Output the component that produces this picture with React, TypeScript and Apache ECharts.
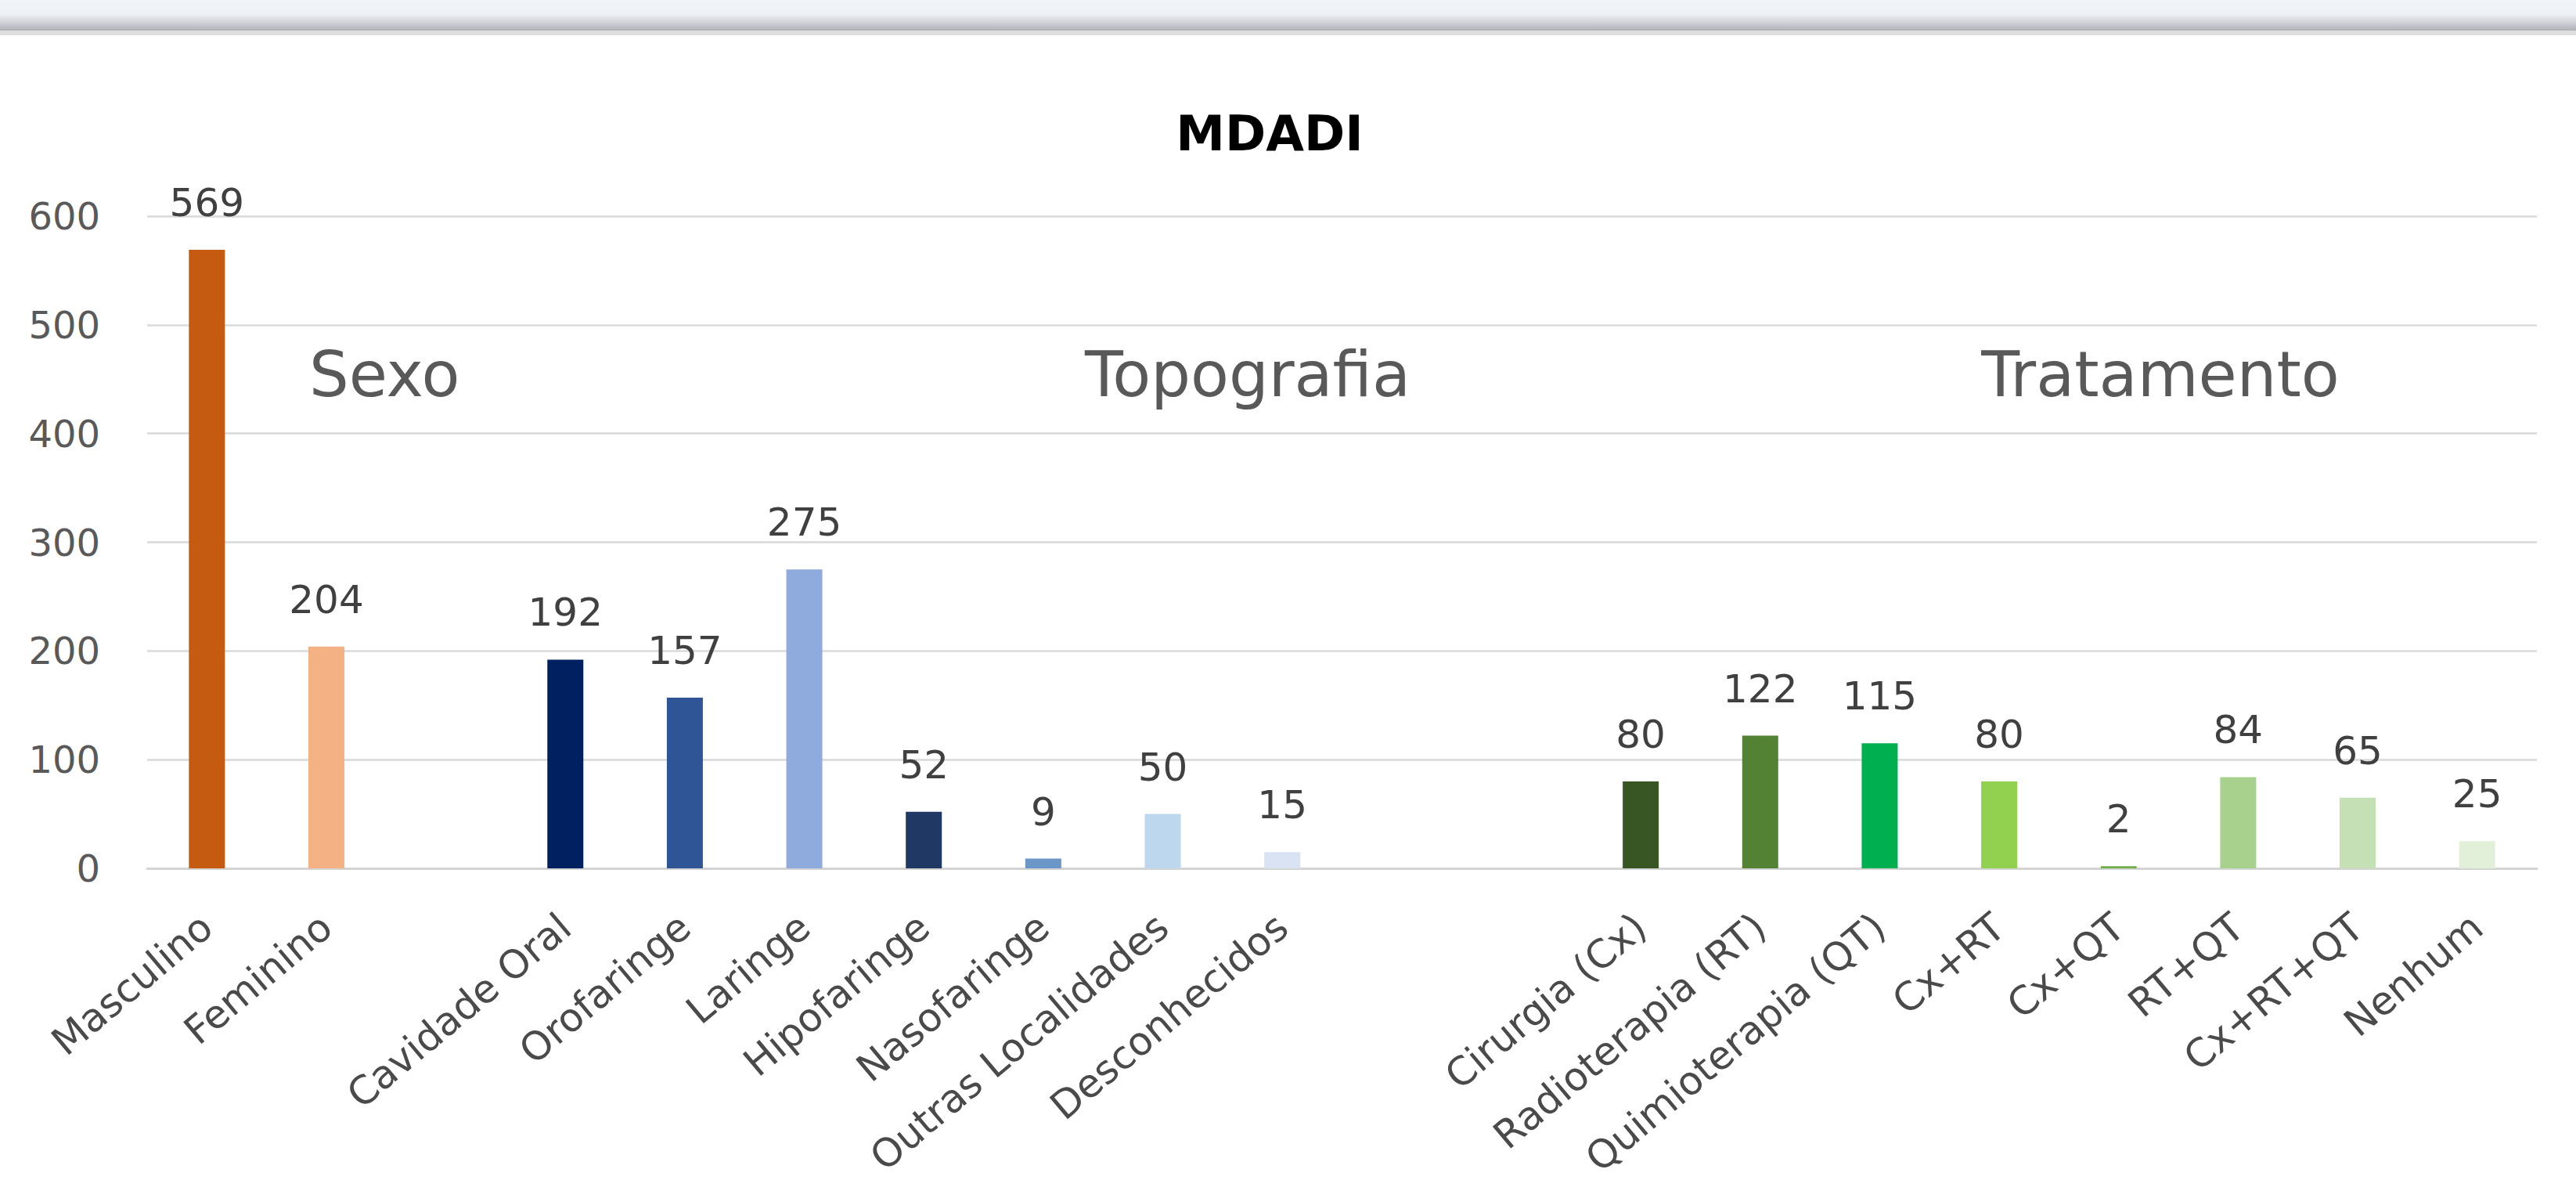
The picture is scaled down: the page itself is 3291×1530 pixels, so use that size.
import React, { useEffect, useRef } from "react";
import * as echarts from "echarts";

const categories = [
  "Masculino",
  "Feminino",
  "",
  "Cavidade Oral",
  "Orofaringe",
  "Laringe",
  "Hipofaringe",
  "Nasofaringe",
  "Outras Localidades",
  "Desconhecidos",
  " ",
  "  ",
  "Cirurgia (Cx)",
  "Radioterapia (RT)",
  "Quimioterapia (QT)",
  "Cx+RT",
  "Cx+QT",
  "RT+QT",
  "Cx+RT+QT",
  "Nenhum",
];

const values: (number | null)[] = [
  569, 204, null, 192, 157, 275, 52, 9, 50, 15, null, null, 80, 122, 115, 80, 2, 84, 65, 25,
];

const barColors = [
  "#c55a11", "#f4b183", "#ffffff", "#002060", "#2f5597", "#8faadc", "#203864", "#6a96c8",
  "#bdd7ee", "#dae3f3", "#ffffff", "#ffffff", "#375623", "#548235", "#00b050", "#92d050",
  "#70ad47", "#a9d18e", "#c5e0b4", "#e2f0d9",
];

const yTicks = { min: 0, max: 600, interval: 100 };

const title = "MDADI";
const groupNames = ["Sexo", "Topografia", "Tratamento"];
const groupX = [395, 1594, 2760];
const groupAlign = ["left", "center", "center"];

const FONT = "DejaVu Sans";

export default function App() {
  const ref = useRef<HTMLDivElement>(null);

  useEffect(() => {
    if (!ref.current) return;
    const chart = echarts.init(ref.current, null, { renderer: "svg" });

    const data = values.map((v, i) =>
      v === null
        ? { value: "-" }
        : { value: v, itemStyle: { color: barColors[i] } }
    );

    const option: any = {
      animation: false,
      backgroundColor: "#ffffff",
      title: {
        text: title,
        left: 1617,
        top: 134,
        textAlign: "center",
        textStyle: {
          fontFamily: FONT,
          fontWeight: "bold",
          fontSize: 63,
          color: "#000000",
        },
      },
      grid: {
        left: 188,
        right: 50,
        top: 276,
        bottom: 421,
        containLabel: false,
      },
      xAxis: {
        type: "category",
        data: categories,
        axisTick: { show: false },
        axisLine: { show: true, lineStyle: { color: "#d4d4d4", width: 3 } },
        axisLabel: {
          interval: 0,
          rotate: 40,
          margin: 68,
          fontFamily: FONT,
          fontSize: 50,
          color: "#4a4a4a",
        },
      },
      yAxis: {
        type: "value",
        min: yTicks.min,
        max: yTicks.max,
        interval: yTicks.interval,
        axisLine: { show: false },
        axisTick: { show: false },
        axisLabel: {
          margin: 60,
          fontFamily: FONT,
          fontSize: 48,
          color: "#595959",
        },
        splitLine: { lineStyle: { color: "#d9d9d9", width: 2.5 } },
      },
      series: [
        {
          type: "bar",
          data,
          barWidth: 46,
          label: {
            show: true,
            position: "top",
            distance: 35,
            fontFamily: FONT,
            fontSize: 50,
            color: "#404040",
          },
        },
      ],
      graphic: [
        {
          type: "rect",
          shape: { x: 0, y: 0, width: 3291, height: 39 },
          style: {
            fill: new echarts.graphic.LinearGradient(0, 0, 0, 1, [
              { offset: 0, color: "#f1f4f9" },
              { offset: 0.45, color: "#eef1f5" },
              { offset: 0.75, color: "#cfd1d7" },
              { offset: 1, color: "#aeafb6" },
            ]),
          },
          silent: true,
        },
        {
          type: "rect",
          shape: { x: 0, y: 39, width: 3291, height: 6 },
          style: { fill: "#dedede" },
          silent: true,
        },
        ...groupNames.map((name, i) => ({
          type: "text",
          x: groupX[i],
          y: 478,
          style: {
            text: name,
            fontFamily: FONT,
            fontSize: 80,
            fill: "#595959",
            align: groupAlign[i],
            verticalAlign: "middle",
          },
          silent: true,
        })),
      ],
    };

    chart.setOption(option);
    return () => chart.dispose();
  }, []);

  return (
    <div
      ref={ref}
      style={{
        position: "absolute",
        left: 0,
        top: 0,
        width: 3291,
        height: 1530,
        background: "#ffffff",
      }}
    />
  );
}
